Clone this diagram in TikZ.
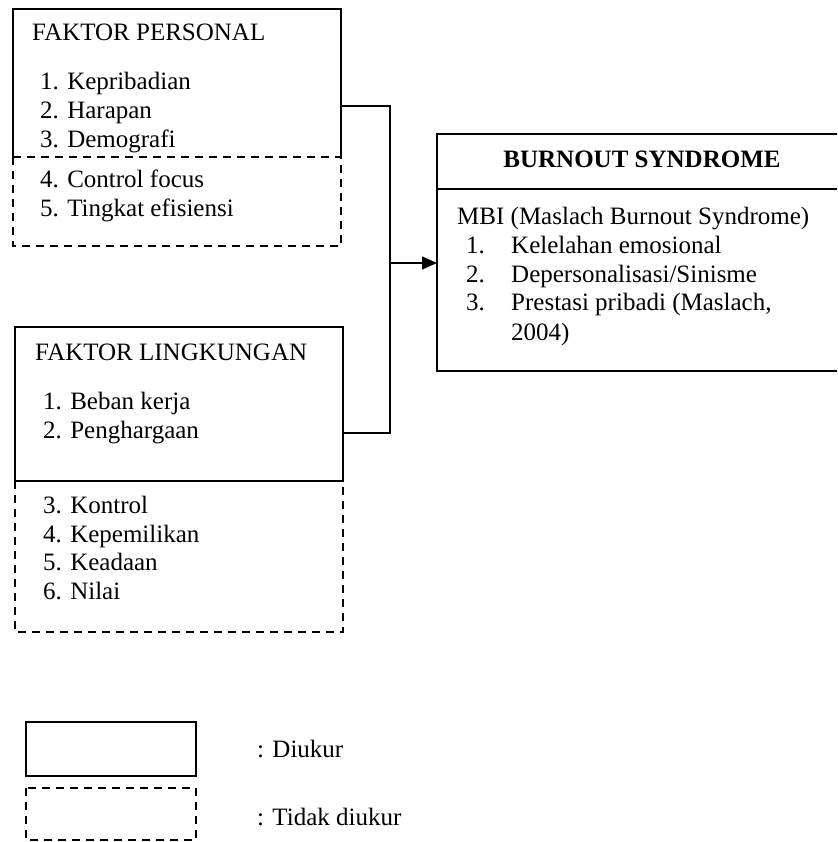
\documentclass[tikz,border=0pt]{standalone}
\usepackage{fontspec}
\setmainfont{Liberation Serif}
\usetikzlibrary{arrows.meta}
\begin{document}
\begin{tikzpicture}[x=1pt,y=-1pt,
  solidln/.style={line width=1.6pt},
  dashln/.style={line width=1.5pt, dash pattern=on 8pt off 6pt},
  txt/.style={anchor=base west, inner sep=0pt, font=\fontsize{25}{29}\selectfont},
  boxnode/.style={anchor=north west, inner sep=0pt, outer sep=0pt, draw=none},
]
\useasboundingbox (0,0) rectangle (837,842);
\clip (0,0) rectangle (837,842);

% Faktor personal
\node[boxnode, minimum width=328pt, minimum height=148pt] (p1) at (13,9) {};
\draw[solidln] (p1.south west) -- (p1.north west) -- (p1.north east) -- (p1.south east);
\node[boxnode, minimum width=328pt, minimum height=89pt] (p2) at (13,157) {};
\draw[dashln] (p2.north west) rectangle (p2.south east);
\node[txt] (tp) at (32,41) {FAKTOR PERSONAL};
\node[txt] (p1a) at (40,90) {1. Kepribadian};
\node[txt] (p1b) at (40,119) {2. Harapan};
\node[txt] (p1c) at (40,148) {3. Demografi};
\node[txt] (p2a) at (40,188) {4. Control focus};
\node[txt] (p2b) at (40,217) {5. Tingkat efisiensi};

% Faktor lingkungan
\node[boxnode, minimum width=328pt, minimum height=154pt] (l1) at (15,327) {};
\node[boxnode, minimum width=328pt, minimum height=151pt] (l2) at (15,481) {};
\draw[dashln] (l2.north west) rectangle (l2.south east);
\draw[solidln] (l1.north west) rectangle (l1.south east);
\node[txt] (tl) at (35,360) {FAKTOR LINGKUNGAN};
\node[txt] (l1a) at (43,409) {1. Beban kerja};
\node[txt] (l1b) at (43,438) {2. Penghargaan};
\node[txt] (l2a) at (43,513) {3. Kontrol};
\node[txt] (l2b) at (43,542) {4. Kepemilikan};
\node[txt] (l2c) at (43,570) {5. Keadaan};
\node[txt] (l2d) at (43,599) {6. Nilai};

% Burnout
\node[boxnode, minimum width=402pt, minimum height=237pt] (b) at (437,134) {};
\draw[solidln] (b.north west) rectangle (b.south east);
\coordinate (hb) at (437,189);
\draw[solidln] (hb) -- (hb -| b.east);
\node[anchor=base, inner sep=0pt, font=\fontsize{25}{29}\selectfont\bfseries] (bt) at (642,168) {BURNOUT SYNDROME};
\node[txt] (mbi) at (457,225) {MBI (Maslach Burnout Syndrome)};
\node[txt] (n1) at (466,253) {1.};
\node[txt] (b1) at (511,253) {Kelelahan emosional};
\node[txt] (n2) at (466,282) {2.};
\node[txt] (b2) at (511,282) {Depersonalisasi/Sinisme};
\node[txt] (n3) at (466,310) {3.};
\node[txt] (b3) at (511,310) {Prestasi pribadi (Maslach,};
\node[txt] (b4) at (511,340) {2004)};

% Connectors
\coordinate (j1) at (390,106);
\coordinate (j2) at (390,433);
\coordinate (j3) at (390,263);
\draw[solidln] (p1.east |- j1) -- (j1) -- (j2) -- (l1.east |- j2);
\draw[solidln, -{Triangle[length=15pt,width=13pt]}] (j3) -- (b.west |- j3);

% Legend
\node[boxnode, minimum width=170pt, minimum height=54pt] (lg1) at (26,722) {};
\draw[solidln] (lg1.north west) rectangle (lg1.south east);
\node[boxnode, minimum width=170pt, minimum height=52pt] (lg2) at (26,788) {};
\draw[dashln] (lg2.north west) rectangle (lg2.south east);
\node[txt] (d1) at (257,757) {: Diukur};
\node[txt] (d2) at (257,825) {: Tidak diukur};
\end{tikzpicture}
\end{document}
